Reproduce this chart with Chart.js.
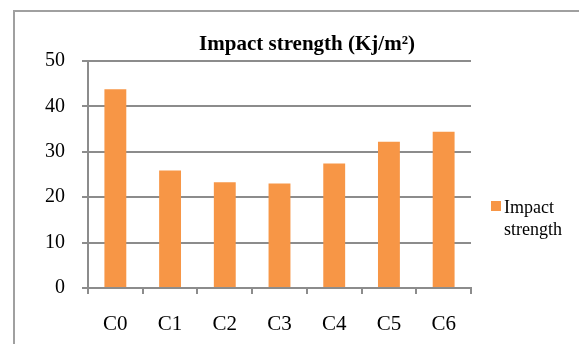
<!DOCTYPE html>
<html>
<head>
<meta charset="utf-8">
<script src="https://cdn.jsdelivr.net/npm/chart.js@4"></script>
<style>
  html, body { margin: 0; padding: 0; background: #fff; overflow: hidden; width: 579px; height: 344px; }
  .frame { position: absolute; left: 13px; top: 10px; width: 620px; height: 400px; border: 2px solid #a0a0a0; box-sizing: border-box; }
  #impactChart { position: absolute; left: 13px; top: 10px; }
</style>
</head>
<body>
<div class="frame"></div>
<canvas id="impactChart" width="578" height="334"></canvas>
<script>
const categories = ['C0', 'C1', 'C2', 'C3', 'C4', 'C5', 'C6'];
const impactStrength = [43.8, 25.9, 23.3, 23.0, 27.4, 32.2, 34.4];
const seriesName = 'Impact strength';
const chartTitle = 'Impact strength (Kj/m²)';

const axisGray = '#8c8c8c';
const serif = 'Liberation Serif';

// title and the wrapped legend are drawn by hand, like the office chart does
const titleAndLegend = {
    id: 'titleAndLegend',
    afterDraw(chart) {
        const ctx = chart.ctx;
        ctx.save();
        ctx.fillStyle = '#000';
        ctx.textAlign = 'center';
        ctx.textBaseline = 'alphabetic';
        ctx.font = 'bold 21px "' + serif + '"';
        ctx.fillText(chartTitle, 294, 40);

        const ds = chart.data.datasets[0];
        ctx.fillStyle = ds.backgroundColor;
        ctx.fillRect(478, 191, 10, 10);
        ctx.fillStyle = '#000';
        ctx.textAlign = 'left';
        ctx.font = '18px "' + serif + '"';
        ds.label.split(' ').forEach((word, i) => {
            ctx.fillText(word, 491, 203 + i * 22);
        });
        ctx.restore();
    }
};

new Chart(document.getElementById('impactChart'), {
    type: 'bar',
    data: {
        labels: categories,
        datasets: [{
            label: seriesName,
            data: impactStrength,
            backgroundColor: '#F79646',
            borderWidth: 0,
            categoryPercentage: 0.4,
            barPercentage: 1
        }]
    },
    options: {
        responsive: false,
        animation: false,
        devicePixelRatio: 1,
        layout: { padding: { top: 51, right: 120, left: 0, bottom: 0 } },
        plugins: {
            legend: { display: false },
            title: { display: false },
            tooltip: { enabled: false }
        },
        scales: {
            x: {
                afterFit: (s) => { s.height = 56; },
                grid: { drawOnChartArea: false, drawTicks: true, tickLength: 6, color: axisGray, lineWidth: 2 },
                border: { display: true, color: axisGray, width: 2 },
                ticks: { color: '#000', padding: 18, font: { family: serif, size: 21 } }
            },
            y: {
                min: 0,
                max: 50,
                afterFit: (s) => { s.width = 75; },
                grid: { color: axisGray, lineWidth: 2, tickLength: 6 },
                border: { display: true, color: axisGray, width: 2 },
                ticks: { stepSize: 10, color: '#000', padding: 17, font: { family: serif, size: 20 } }
            }
        }
    },
    plugins: [titleAndLegend]
});
</script>
</body>
</html>
